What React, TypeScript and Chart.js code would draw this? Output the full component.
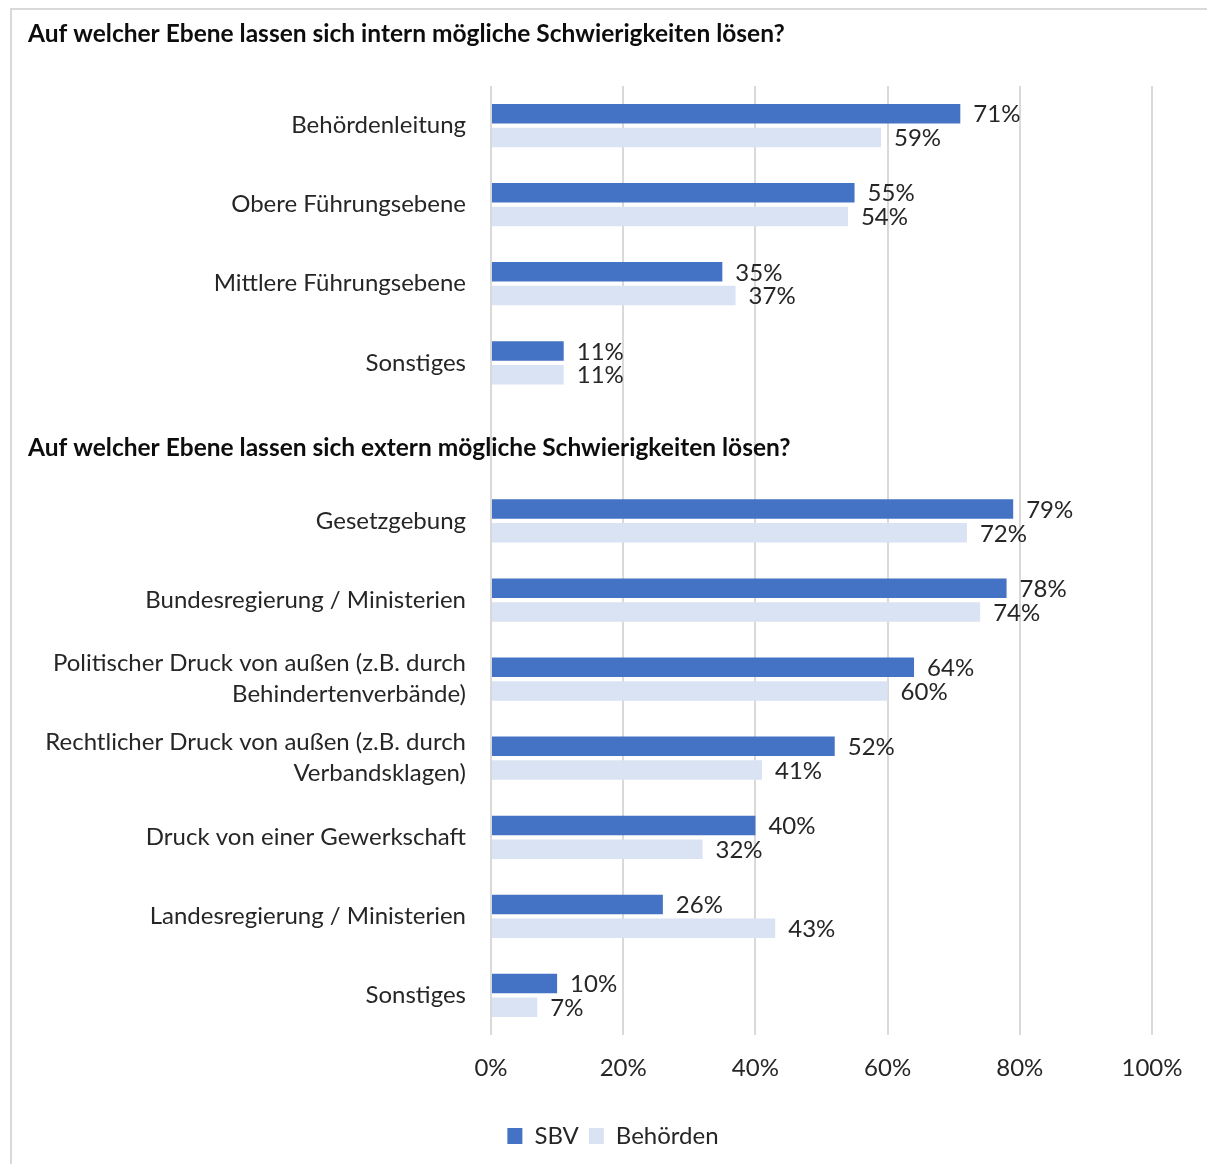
import React, { useEffect, useRef } from "react";
import { Chart, registerables } from "chart.js";

Chart.register(...registerables);

const TITLE_INTERN = "Auf welcher Ebene lassen sich intern mögliche Schwierigkeiten lösen?";
const TITLE_EXTERN = "Auf welcher Ebene lassen sich extern mögliche Schwierigkeiten lösen?";
const TITLE_EXTERN_SLOT = 4;

const categories: (string | string[])[] = [
  "Behördenleitung",
  "Obere Führungsebene",
  "Mittlere Führungsebene",
  "Sonstiges",
  "",
  "Gesetzgebung",
  "Bundesregierung / Ministerien",
  ["Politischer Druck von außen (z.B. durch", "Behindertenverbände)"],
  ["Rechtlicher Druck von außen (z.B. durch", "Verbandsklagen)"],
  "Druck von einer Gewerkschaft",
  "Landesregierung / Ministerien",
  "Sonstiges",
];

const sbvValues = [71, 55, 35, 11, null, 79, 78, 64, 52, 40, 26, 10];
const behoerdenValues = [59, 54, 37, 11, null, 72, 74, 60, 41, 32, 43, 7];

const xTickValues = [0, 20, 40, 60, 80, 100];

const FONT = "Lato, 'Noto Sans', sans-serif";
const TEXT = "#262626";
const SIZE = 24;
const LEGEND_CENTER_X = 613;

const labelPlugin = {
  id: "valueLabels",
  afterDatasetsDraw(chart: any) {
    const ctx = chart.ctx;
    ctx.save();
    ctx.font = `${SIZE}px ${FONT}`;
    ctx.fillStyle = TEXT;
    ctx.textAlign = "left";
    ctx.textBaseline = "middle";
    chart.data.datasets.forEach((ds: any, di: number) => {
      const meta = chart.getDatasetMeta(di);
      meta.data.forEach((el: any, i: number) => {
        const v = ds.data[i];
        if (v === null || v === undefined) return;
        ctx.fillText(`${v}%`, el.x + 13, el.y + 1);
      });
    });
    ctx.restore();
  },
};

const titlePlugin = {
  id: "sectionTitles",
  afterDraw(chart: any) {
    const ctx = chart.ctx;
    const y = chart.scales.y;
    ctx.save();
    ctx.font = `bold 24.5px ${FONT}`;
    ctx.fillStyle = "#0d0d0d";
    ctx.textAlign = "left";
    ctx.textBaseline = "middle";
    ctx.fillText(TITLE_INTERN, 28, 34);
    ctx.fillText(TITLE_EXTERN, 28, y.getPixelForValue(TITLE_EXTERN_SLOT) + 6);
    ctx.restore();
  },
};

const legendShiftPlugin = {
  id: "legendShift",
  afterLayout(chart: any) {
    const l = chart.legend;
    if (!l) return;
    const shift = LEGEND_CENTER_X - (l.left + l.right) / 2;
    l.left += shift;
    l.right += shift;
  },
};

export default function App() {
  const ref = useRef<HTMLCanvasElement | null>(null);

  useEffect(() => {
    if (!ref.current) return;
    Chart.defaults.font.family = FONT;
    const chart = new Chart(ref.current, {
      type: "bar",
      data: {
        labels: categories as any,
        datasets: [
          {
            label: "SBV",
            data: sbvValues as any,
            backgroundColor: "#4472C4",
            categoryPercentage: 0.6,
            barPercentage: 0.82,
          },
          {
            label: "Behörden",
            data: behoerdenValues as any,
            backgroundColor: "#DAE3F3",
            categoryPercentage: 0.6,
            barPercentage: 0.82,
          },
        ],
      },
      options: {
        indexAxis: "y",
        animation: false,
        responsive: false,
        layout: { padding: { left: 0, right: 55, top: 86, bottom: 6 } },
        plugins: {
          legend: {
            position: "bottom",
            labels: {
              boxWidth: 15,
              boxHeight: 16,
              padding: 10,
              color: TEXT,
              font: { size: SIZE, family: FONT },
            },
          },
          tooltip: { enabled: false },
        },
        scales: {
          x: {
            min: 0,
            max: 100,
            afterBuildTicks: (s: any) => {
              s.ticks = xTickValues.map((v) => ({ value: v }));
            },
            afterFit: (s: any) => {
              s.height = 79;
            },
            ticks: {
              padding: 19,
              color: TEXT,
              font: { size: SIZE, family: FONT },
              callback: (v: any) => `${v}%`,
            },
            grid: { color: "#d9d9d9", lineWidth: 2, drawTicks: false },
            border: { display: false },
          },
          y: {
            afterFit: (s: any) => {
              s.width = 491;
            },
            ticks: {
              padding: 25,
              color: TEXT,
              autoSkip: false,
              font: { size: SIZE, family: FONT, lineHeight: 1.29 },
            },
            grid: { display: false, drawTicks: false },
            border: { display: false },
          },
        },
      },
      plugins: [labelPlugin, titlePlugin, legendShiftPlugin],
    });
    return () => chart.destroy();
  }, []);

  return (
    <div style={{ position: "fixed", left: 0, top: 0, width: 1207, height: 1164, background: "#fff" }}>
      <div
        style={{
          position: "absolute",
          left: 10,
          top: 8,
          width: 1250,
          height: 1250,
          borderLeft: "2px solid #d9d9d9",
          borderTop: "2px solid #d9d9d9",
        }}
      />
      <canvas
        ref={ref}
        width={1207}
        height={1164}
        style={{ position: "absolute", left: 0, top: 0, width: 1207, height: 1164 }}
      />
    </div>
  );
}
